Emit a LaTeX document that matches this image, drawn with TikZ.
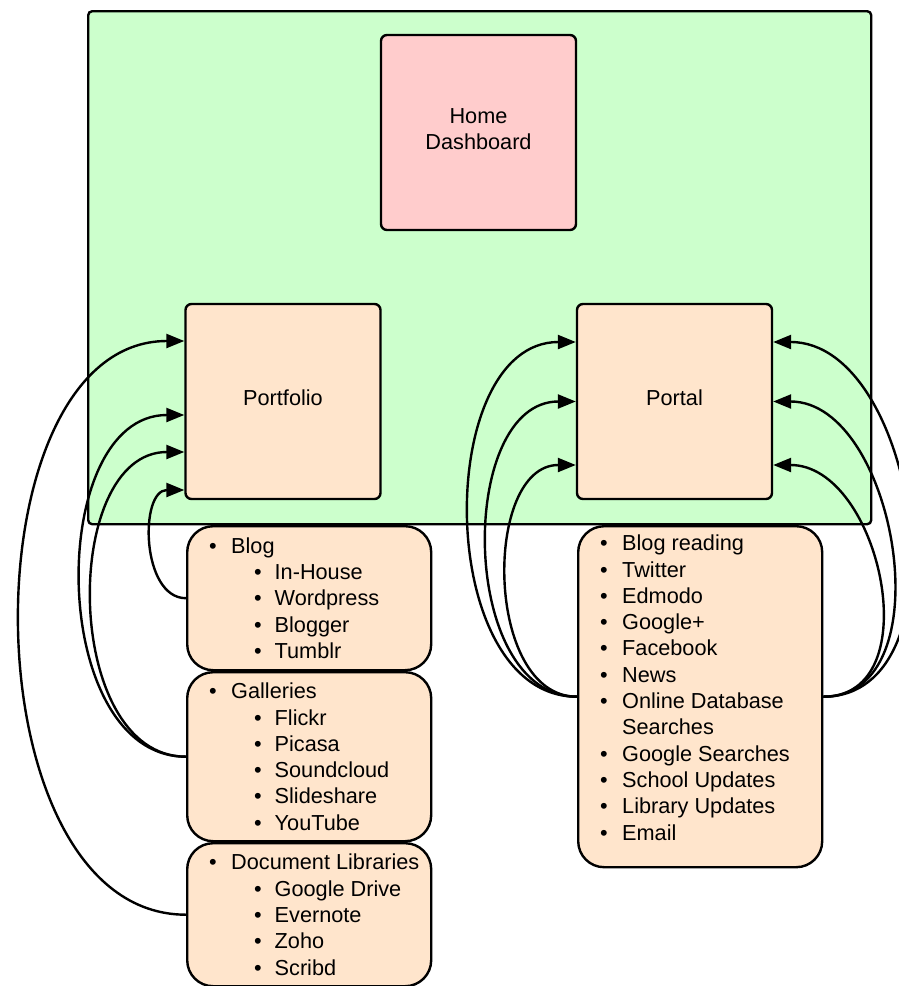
\documentclass[tikz,border=0pt]{standalone}
\usepackage{fontspec}
\setmainfont{Liberation Sans}
\usetikzlibrary{arrows.meta}

\definecolor{boardgreen}{HTML}{CCFFCC}
\definecolor{homepink}{HTML}{FFCCCC}
\definecolor{peach}{HTML}{FFE5CC}

\newcommand{\bul}[1]{\makebox[200pt][l]{\makebox[22pt][l]{\textbullet}#1}}
\newcommand{\subbul}[1]{\makebox[200pt][l]{\hspace{45pt}\makebox[20.5pt][l]{\textbullet}#1}}
\newcommand{\contd}[1]{\makebox[200pt][l]{\hspace{22pt}#1}}

\tikzset{
		board/.style      = {draw, line width=2.4pt, fill=boardgreen, rounded corners=4pt,
				inner sep=0pt, anchor=north west},
		page/.style       = {draw, line width=2.4pt, rounded corners=6pt, align=center,
				minimum width=195pt, minimum height=195pt,
				font=\fontsize{21.7}{26.3}\selectfont},
		home/.style       = {page, fill=homepink},
		sectionbox/.style = {page, fill=peach},
		listbox/.style    = {draw, line width=2.4pt, fill=peach, rounded corners=26pt,
				minimum width=244pt, inner sep=0pt, align=left, anchor=north west,
				font=\fontsize{21.7}{26.3}\selectfont},
		link/.style       = {line width=2.4pt, -{Triangle[length=18pt,width=14pt]}}
	}

\begin{document}
\begin{tikzpicture}[x=1pt, y=-1pt]
	\useasboundingbox (0,0) rectangle (899,986);

	% main area
	\node[board, minimum width=783pt, minimum height=513pt] (board) at (87,10) {};

	\node[home] (home) at (478.5,132.5) {Home\\Dashboard\\[-20pt]\mbox{}};
	\node[sectionbox] (portfolio) at (283,401.5) {Portfolio\\[-18pt]\mbox{}};
	\node[sectionbox] (portal) at (674.5,401.5) {Portal\\[-18pt]\mbox{}};

	% lists
	\node[listbox, minimum height=144pt] (blog) at (186,525)
	{\bul{Blog}\\ \subbul{In-House}\\ \subbul{Wordpress}\\ \subbul{Blogger}\\ \subbul{Tumblr}};
	\node[listbox, minimum height=169pt] (galleries) at (186,671)
	{\bul{Galleries}\\ \subbul{Flickr}\\ \subbul{Picasa}\\ \subbul{Soundcloud}\\
		\subbul{Slideshare}\\ \subbul{YouTube}};
	\node[listbox, minimum height=143pt] (doclibs) at (186,842)
	{\bul{Document Libraries}\\ \subbul{Google Drive}\\ \subbul{Evernote}\\
		\subbul{Zoho}\\ \subbul{Scribd}};
	\node[listbox, minimum height=341pt] (feeds) at (577,525)
	{\bul{Blog reading}\\ \bul{Twitter}\\ \bul{Edmodo}\\ \bul{Google+}\\
		\bul{Facebook}\\ \bul{News}\\ \bul{Online Database}\\ \contd{Searches}\\
		\bul{Google Searches}\\ \bul{School Updates}\\ \bul{Library Updates}\\ \bul{Email}\\[-8pt]\mbox{}};

	% links into portfolio
	\draw[link] (blog.west) .. controls +(-45,0) and +(-45,0) .. ([yshift=-88.5pt]portfolio.west);
	\draw[link] (galleries.west) .. controls +(-124,0) and +(-124,0) .. ([yshift=-50.5pt]portfolio.west);
	\draw[link] (galleries.west) .. controls +(-139,0) and +(-139,0) .. ([yshift=-13.5pt]portfolio.west);
	\draw[link] (doclibs.west) .. controls +(-220,0) and +(-220,0) .. ([yshift=60.5pt]portfolio.west);

	% links into portal
	\foreach \dy/\bend in {59.5/143, 0/119, -63.5/93}
		\draw[link] (feeds.west) .. controls +(-\bend,0) and +(-\bend,0) .. ([yshift=\dy pt]portal.west);
	\foreach \dy/\bend in {59.5/145, 0/123, -63.5/107}
		\draw[link] (feeds.east) .. controls +(\bend,0) and +(\bend,0) .. ([yshift=\dy pt]portal.east);
\end{tikzpicture}
\end{document}
